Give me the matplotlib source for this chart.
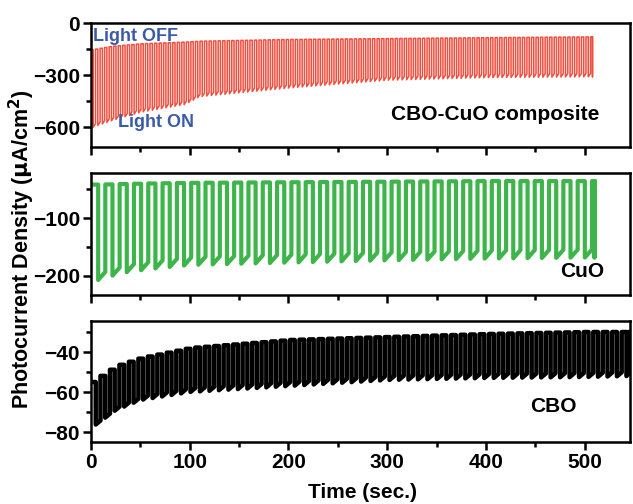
import numpy as np
import matplotlib.pyplot as plt
from matplotlib.ticker import MultipleLocator

plt.rcParams['font.family'] = ['Liberation Sans', 'DejaVu Sans']
plt.rcParams['font.weight'] = 'bold'

# envelope readings: time (s), light OFF / light ON level (uA/cm2)
cbo_cuo_t = [0, 20, 50, 95, 110, 200, 300, 400, 508]
cbo_cuo_off = [-155, -135, -120, -110, -105, -95, -90, -85, -80]
cbo_cuo_on = [-605, -565, -515, -470, -425, -375, -330, -315, -310]
cbo_cuo_period = 4.6

cuo_t = [0, 8, 30, 60, 100, 200, 300, 400, 510]
cuo_off = [-42, -42, -41, -40, -39, -38, -37, -36, -36]
cuo_on = [-207, -207, -195, -188, -181, -177, -173, -170, -168]
cuo_period = 14.5

cbo_t = [0, 25, 50, 100, 200, 300, 400, 500, 546]
cbo_off = [-55, -47, -43, -38, -34, -32.5, -31, -30, -30]
cbo_on = [-78, -69, -64, -60, -57, -54, -53, -52.5, -52]
cbo_period = 9.6


def chopped(t_env, off_env, on_env, period, relax, t_end):
    # light on/off cycles: OFF half then ON half, with small relaxation while ON
    xs, ys = [], []
    t0 = 0.0
    while t0 < t_end:
        off = np.interp(t0, t_env, off_env)
        on = np.interp(t0 + period / 2, t_env, on_env)
        t_mid = min(t0 + period / 2, t_end)
        t_fin = min(t0 + period, t_end)
        xs += [t0, t_mid, t_mid, t_fin, t_fin]
        ys += [off, off, on, on + relax, off]
        t0 += period
    return np.array(xs), np.array(ys)


fig = plt.figure(figsize=(6.33, 5.04), dpi=100)
left, width = 91 / 633, (630 - 91) / 633
ax1 = fig.add_axes([left, 1 - 147 / 504, width, 124 / 504])
ax2 = fig.add_axes([left, 1 - 295 / 504, width, 122 / 504])
ax3 = fig.add_axes([left, 1 - 442 / 504, width, 121 / 504])

x, y = chopped(cbo_cuo_t, cbo_cuo_off, cbo_cuo_on, cbo_cuo_period, 20, 508)
ax1.plot(x, y, color='#f04e3e', lw=1.1)
x, y = chopped(cuo_t, cuo_off, cuo_on, cuo_period, 14, 510)
ax2.plot(x, y, color='#3db54a', lw=3)
x, y = chopped(cbo_t, cbo_off, cbo_on, cbo_period, 2, 546)
ax3.plot(x, y, color='black', lw=3.2)

ax1.set_ylim(-715, 0)
ax1.yaxis.set_major_locator(MultipleLocator(300))
ax1.yaxis.set_minor_locator(MultipleLocator(150))
ax2.set_ylim(-233, -22)
ax2.yaxis.set_major_locator(MultipleLocator(100))
ax2.yaxis.set_minor_locator(MultipleLocator(50))
ax3.set_ylim(-85, -24.5)
ax3.yaxis.set_major_locator(MultipleLocator(20))
ax3.yaxis.set_minor_locator(MultipleLocator(10))

for ax in (ax1, ax2, ax3):
    ax.set_xlim(0, 546)
    ax.xaxis.set_major_locator(MultipleLocator(100))
    ax.xaxis.set_minor_locator(MultipleLocator(50))
    for s in ax.spines.values():
        s.set_linewidth(1.8)
    ax.tick_params(which='major', direction='out', length=6, width=1.8, labelsize=15, pad=2)
    ax.tick_params(which='minor', direction='out', length=3.5, width=1.8)
ax1.tick_params(axis='x', which='both', labelbottom=False)
ax2.tick_params(axis='x', which='both', labelbottom=False)

ax1.text(2, -75, 'Light OFF', color='#3b5ba8', fontsize=13, va='center')
ax1.text(27, -571, 'Light ON', color='#3b5ba8', fontsize=13, va='center')
ax1.text(515, -530, 'CBO-CuO composite', fontsize=15, ha='right', va='center')
ax2.text(520, -193, 'CuO', fontsize=15, ha='right', va='center')
ax3.text(492, -67, 'CBO', fontsize=15, ha='right', va='center')

fig.text(22 / 633, 0.505, r'Photocurrent Density ($\mathbf{\mu}$A/cm$^\mathbf{2}$)',
         rotation=90, ha='center', va='center', fontsize=15.5)
fig.text(362 / 633, 1 - 492 / 504, 'Time (sec.)', ha='center', va='center', fontsize=15)

fig.savefig('out.png', dpi=100)
